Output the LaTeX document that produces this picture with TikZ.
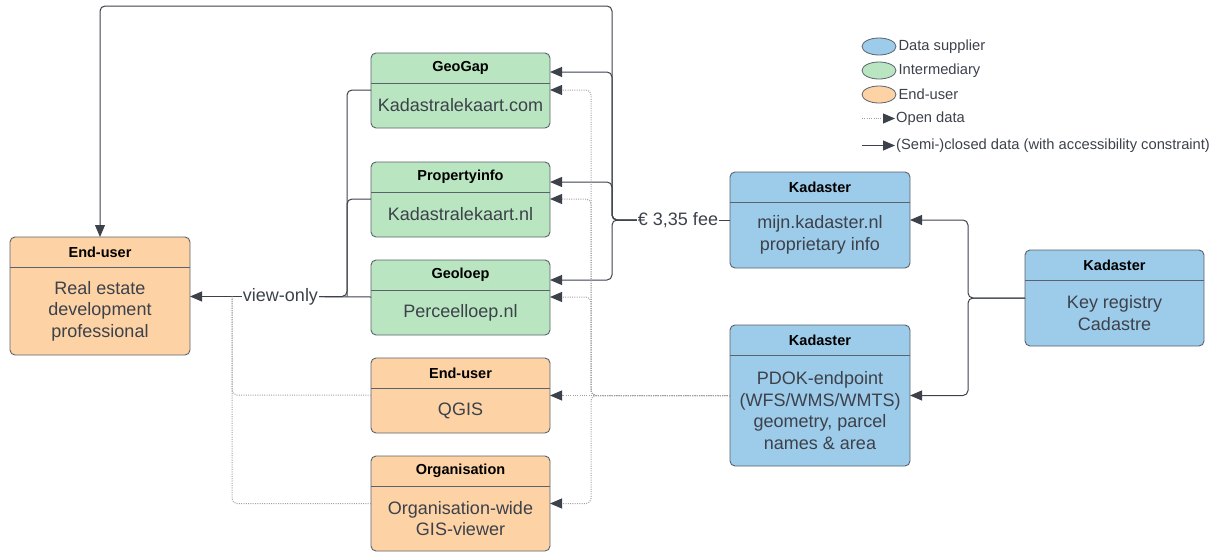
\documentclass[tikz,border=0pt]{standalone}
\usepackage{fontspec}
\setmainfont{Liberation Sans}
\usetikzlibrary{arrows.meta, positioning, shapes.geometric, calc}

\definecolor{supplier}{HTML}{9DCBEA}
\definecolor{interm}{HTML}{B9E6C0}
\definecolor{userfill}{HTML}{FDD2A5}
\definecolor{edge}{HTML}{5A626D}
\definecolor{ink}{HTML}{3C414A}
\definecolor{dots}{HTML}{A0A0A0}

\tikzset{
    box/.style={draw=edge, line width=0.9pt, rounded corners=5pt, inner sep=0pt, outer sep=0pt, minimum width=179pt},
    head/.style={font=\fontsize{14.5}{17}\selectfont\bfseries, text=black},
    body/.style={font=\fontsize{18}{21.5}\selectfont, text=ink, align=center},
    lbl/.style={font=\fontsize{18}{21.5}\selectfont, text=ink, inner sep=1pt},
    lgtext/.style={font=\fontsize{14.7}{17}\selectfont, text=ink, inner sep=1pt, anchor=west},
    lgshape/.style={ellipse, draw=edge, line width=0.8pt, minimum width=34pt, minimum height=17pt, inner sep=0pt},
    closed/.style={draw=ink, line width=1pt, rounded corners=5pt},
    open/.style={draw=dots, line width=1pt, dash pattern=on 1pt off 1.3pt, rounded corners=5pt},
    tip/.style={-{Triangle[length=12pt, width=10pt, color=ink, fill=ink]}},
}

\begin{document}
\begin{tikzpicture}[x=1pt, y=-1pt]
    \useasboundingbox (0,0) rectangle (1219,552);

    % boxes
    \node[box, fill=interm, minimum height=75pt] (geogap) at (460.5,90.5) {};
    \node[box, fill=interm, minimum height=75pt] (propinfo) at (460.5,199.5) {};
    \node[box, fill=interm, minimum height=75pt] (geoloep) at (460.5,297.5) {};
    \node[box, fill=userfill, minimum height=75pt] (qgis) at (460.5,395.5) {};
    \node[box, fill=userfill, minimum height=95pt] (orgview) at (460.5,503.5) {};
    \node[box, fill=userfill, minimum height=118pt, minimum width=180pt] (enduser) at (100,296) {};
    \node[box, fill=supplier, minimum height=96pt, minimum width=180pt] (mijn) at (820,220) {};
    \node[box, fill=supplier, minimum height=141pt, minimum width=180pt] (pdok) at (820,395.5) {};
    \node[box, fill=supplier, minimum height=96pt] (keyreg) at (1114.5,298) {};

    \foreach \n in {geogap, propinfo, geoloep, qgis, orgview, enduser, mijn, pdok, keyreg}
        \draw[edge, line width=0.9pt] ([yshift=-30pt]\n.north west) -- ([yshift=-30pt]\n.north east);

    % headers
    \node[head] at ([yshift=-15pt]geogap.north) {GeoGap};
    \node[head] at ([yshift=-15pt]propinfo.north) {Propertyinfo};
    \node[head] at ([yshift=-15pt]geoloep.north) {Geoloep};
    \node[head] at ([yshift=-15pt]qgis.north) {End-user};
    \node[head] at ([yshift=-15pt]orgview.north) {Organisation};
    \node[head] at ([yshift=-15pt]enduser.north) {End-user};
    \node[head] at ([yshift=-15pt]mijn.north) {Kadaster};
    \node[head] at ([yshift=-15pt]pdok.north) {Kadaster};
    \node[head] at ([yshift=-15pt]keyreg.north) {Kadaster};

    % bodies
    \node[body] at ([yshift=-15pt]geogap.center) {Kadastralekaart.com};
    \node[body] at ([yshift=-15pt]propinfo.center) {Kadastralekaart.nl};
    \node[body] at ([yshift=-15pt]geoloep.center) {Perceelloep.nl};
    \node[body] at ([yshift=-15pt]qgis.center) {QGIS};
    \node[body] at ([yshift=-15pt]orgview.center) {Organisation-wide\\GIS-viewer};
    \node[body] at ([yshift=-15pt]enduser.center) {Real estate\\development\\professional};
    \node[body] at ([yshift=-15pt]mijn.center) {mijn.kadaster.nl\\proprietary info};
    \node[body] at ([yshift=-15pt]pdok.center) {PDOK-endpoint\\(WFS/WMS/WMTS)\\geometry, parcel\\names \& area};
    \node[body] at ([yshift=-15pt]keyreg.center) {Key registry\\Cadastre};

    % key registry to Kadaster endpoints
    \coordinate (keyjoin) at (968,298);
    \draw[closed, tip] (keyreg.west) -- (keyjoin) |- (mijn.east);
    \draw[closed, tip] (keyreg.west) -- (keyjoin) |- (pdok.east);

    % paid data
    \node[lbl] (fee) at (678,220) {€ 3,35 fee};
    \coordinate (feejoin) at (612,220);
    \coordinate (feetop) at (612,6);
    \draw[closed] (mijn) -- (fee);
    \draw[closed, tip] (fee) -- (feejoin) |- ([yshift=-19pt]geogap.north east);
    \draw[closed, tip] (fee) -- (feejoin) |- ([yshift=-20pt]propinfo.north east);
    \draw[closed, tip] (fee) -- (feejoin) |- ([yshift=-20pt]geoloep.north east);
    \draw[closed, tip] (fee) -- (feejoin) -- (feetop) -| (enduser);

    % open data
    \coordinate (pdokjoin) at (591,395.5);
    \draw[open, tip] (pdok) -- (pdokjoin) |- ([yshift=-37pt]geogap.north east);
    \draw[open, tip] (pdok) -- (pdokjoin) |- ([yshift=-37pt]propinfo.north east);
    \draw[open, tip] (pdok) -- (pdokjoin) |- ([yshift=-37pt]geoloep.north east);
    \draw[open, tip] (pdok) -- (qgis);
    \draw[open, tip] (pdok) -- (pdokjoin) |- (orgview.east);

    % to the end-user
    \node[lbl] (viewonly) at (280.5,296.5) {view-only};
    \coordinate (viewjoin) at (347,296.5);
    \coordinate (dotjoin) at (232,296.5);
    \draw[closed, tip] (viewonly) -- (enduser.east |- viewonly);
    \draw[closed] ([yshift=-37pt]geogap.north west) -| (viewjoin) -- (viewonly);
    \draw[closed] ([yshift=-37pt]propinfo.north west) -| (viewjoin);
    \draw[closed] ([yshift=-37pt]geoloep.north west) -- (viewonly);
    \draw[open] ([yshift=-37pt]qgis.north west) -| (dotjoin);
    \draw[open] (orgview.west) -| (dotjoin);

    % legend
    \node[lgshape, fill=supplier] (lgsup) at (879,46.5) {};
    \node[lgshape, fill=interm] (lgint) at (879,70.5) {};
    \node[lgshape, fill=userfill] (lguser) at (879,94.5) {};
    \node[lgtext, right=1pt of lgsup] {Data supplier};
    \node[lgtext, right=1pt of lgint] {Intermediary};
    \node[lgtext, right=1pt of lguser] {End-user};
    \coordinate (lgopen) at (862,118.5);
    \coordinate (lgclosed) at (862,145.5);
    \node[lgtext] (lgopentxt) at (895,118.5) {Open data};
    \node[lgtext] (lgclosedtxt) at (895,145.5) {(Semi-)closed data (with accessibility constraint)};
    \draw[open, tip] (lgopen) -- (lgopentxt);
    \draw[closed, tip] (lgclosed) -- (lgclosedtxt);
\end{tikzpicture}
\end{document}
